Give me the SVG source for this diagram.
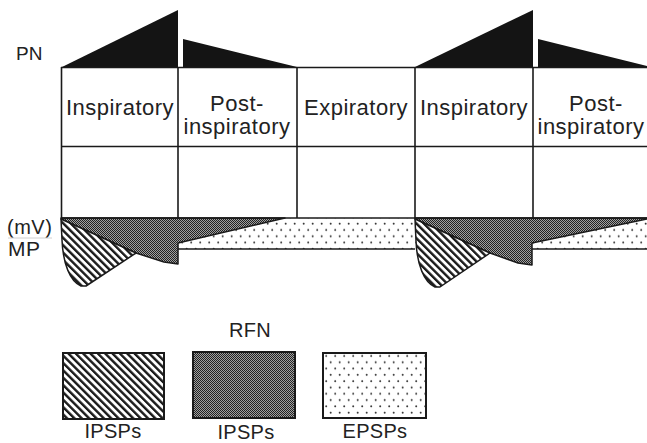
<svg xmlns="http://www.w3.org/2000/svg" width="647" height="443" viewBox="0 0 647 443">
<style>
  .lbl { font-family: "Liberation Sans", Arial, sans-serif; fill: #222; }
  .ph { font-size: 22px; text-anchor: middle; letter-spacing: 0.5px; }
  .lg { font-size: 20px; text-anchor: middle; letter-spacing: 0.3px; }
  .grid { stroke: #1a1a1a; stroke-width: 1.6; fill: none; }
  .pn { fill: #141414; }
  .hatch { fill: url(#hatchPat); stroke: #1a1a1a; stroke-width: 1.5; stroke-linejoin: round; }
  .dark { fill: url(#darkPat); stroke: #1a1a1a; stroke-width: 1.5; stroke-linejoin: round; }
  .dots { fill: url(#dotPat); stroke: none; }
  .edge { stroke: #1a1a1a; stroke-width: 1.6; fill: none; }
  .box { stroke: #1a1a1a; stroke-width: 2; }
</style>
<defs>
  <pattern id="hatchPat" patternUnits="userSpaceOnUse" width="5.2" height="5.2" patternTransform="rotate(-45)">
    <rect width="5.2" height="5.2" fill="#ffffff"/>
    <rect x="0" y="0" width="2.4" height="5.2" fill="#1a1a1a"/>
  </pattern>
  <pattern id="darkPat" patternUnits="userSpaceOnUse" width="2" height="2">
    <rect width="2" height="2" fill="#a0a0a0"/>
    <rect x="0" y="0" width="1" height="1" fill="#222"/>
    <rect x="1" y="1" width="1" height="1" fill="#222"/>
  </pattern>
  <pattern id="dotPat" patternUnits="userSpaceOnUse" width="9" height="12.6">
    <rect width="9" height="12.6" fill="#ffffff"/>
    <circle cx="2.2" cy="3.2" r="1" fill="#333"/>
    <circle cx="6.7" cy="9.5" r="1" fill="#333"/>
  </pattern>
</defs>
<rect width="647" height="443" fill="#ffffff"/>

<g id="pn-trace">
  <polygon class="pn" points="62,67 178,10 178,67"/>
  <polygon class="pn" points="183,67 183,39 297,67"/>
  <polygon class="pn" points="415,67 533,10 533,67"/>
  <polygon class="pn" points="538,67 538,39 647,66 647,67"/>
</g>

<g id="phase-grid">
  <line class="grid" x1="61" y1="67.5" x2="647" y2="67.5"/>
  <line class="grid" x1="61" y1="146.5" x2="647" y2="146.5"/>
  <line class="grid" x1="61.5" y1="67" x2="61.5" y2="218"/>
  <line class="grid" x1="178" y1="67" x2="178" y2="218"/>
  <line class="grid" x1="297" y1="67" x2="297" y2="218"/>
  <line class="grid" x1="415" y1="67" x2="415" y2="218"/>
  <line class="grid" x1="533" y1="67" x2="533" y2="218"/>
</g>

<g id="phase-inspiratory-1">
  <text class="lbl ph" x="120" y="115">Inspiratory</text>
</g>
<g id="phase-postinspiratory-1">
  <text class="lbl ph" x="237" y="111">Post-</text>
  <text class="lbl ph" x="237" y="134">inspiratory</text>
</g>
<g id="phase-expiratory">
  <text class="lbl ph" x="356" y="115">Expiratory</text>
</g>
<g id="phase-inspiratory-2">
  <text class="lbl ph" x="474" y="115">Inspiratory</text>
</g>
<g id="phase-postinspiratory-2">
  <text class="lbl ph" x="596" y="111">Post-</text>
  <text class="lbl ph" x="591" y="134">inspiratory</text>
</g>

<g id="axis-labels">
  <text class="lbl" x="16" y="60" font-size="19">PN</text>
  <text class="lbl" x="7" y="234" font-size="20" letter-spacing="0.5">(mV)</text>
  <line x1="8" y1="238" x2="52" y2="238" stroke="#d0d0d0" stroke-width="1"/>
  <text class="lbl" x="8" y="256" font-size="21" letter-spacing="0.5">MP</text>
</g>

<g id="mp-trace">
  <rect class="dots" x="178" y="218" width="469" height="31"/>
  <!-- cycle 1 -->
  <path class="dark" d="M61,218 L285,218 L178,243 L178,264 L164,262 L136,253 L61,219 Z"/>
  <path class="hatch" d="M61,219 L136,253 L86,286 L81,286 C70,281 63,264 62,240 Z"/>
  <!-- cycle 2 -->
  <path class="dark" d="M415,218 L647,218 L647,219 L532,243 L532,265 L518,263 L490,253 L415,219 Z"/>
  <path class="hatch" d="M415,219 L490,253 L440,287 L435,287 C424,282 417,265 416,241 Z"/>
  <line class="edge" x1="61" y1="218" x2="647" y2="218"/>
  <line class="edge" x1="178" y1="249" x2="415" y2="249"/>
  <line class="edge" x1="532" y1="249" x2="647" y2="249"/>
</g>

<g id="legend-rfn">
  <text class="lbl lg" x="250" y="337">RFN</text>
</g>
<g id="legend-ipsp-hatched">
  <rect class="box" x="63" y="353" width="101" height="66" fill="url(#hatchPat)"/>
  <text class="lbl lg" x="113" y="438">IPSPs</text>
</g>
<g id="legend-ipsp-dark">
  <rect class="box" x="193" y="352" width="102" height="66" fill="url(#darkPat)"/>
  <text class="lbl lg" x="246" y="439">IPSPs</text>
</g>
<g id="legend-epsp-dotted">
  <rect class="box" x="323" y="353" width="103" height="65" fill="url(#dotPat)"/>
  <text class="lbl lg" x="375" y="438">EPSPs</text>
</g>
<g id="connectors"></g>
</svg>
